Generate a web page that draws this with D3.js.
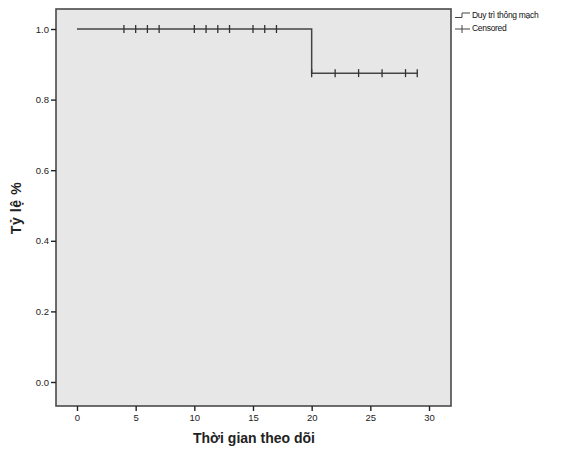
<!DOCTYPE html>
<html>
<head>
<meta charset="utf-8">
<script src="https://cdn.jsdelivr.net/npm/d3@7"></script>
<style>
  body { margin: 0; background: #fff; }
  svg { display: block; font-family: "Liberation Sans", Arial, sans-serif; }
</style>
</head>
<body>
<svg id="chart" width="567" height="449"></svg>
<script>
// survival curve (step points)
const stepTimes = [0, 20, 29];
const stepValues = [1.0, 0.875, 0.875];

// censored observations
const censoredTimes = [4, 5, 6, 7, 10, 11, 12, 13, 15, 16, 17, 20, 22, 24, 26, 28, 29];
const censoredValues = [1, 1, 1, 1, 1, 1, 1, 1, 1, 1, 1, 0.875, 0.875, 0.875, 0.875, 0.875, 0.875];

const xTicks = [0, 5, 10, 15, 20, 25, 30];
const yTicks = [0.0, 0.2, 0.4, 0.6, 0.8, 1.0];

const legendLabels = ["Duy trì thông mạch", "Censored"];

const frame = { left: 56, right: 451, top: 9, bottom: 406 };

let svg = d3.select("#chart");

let xScale = d3.scaleLinear().domain([0, 30]).range([77, 429]);
let yScale = d3.scaleLinear().domain([0, 1]).range([382, 29]);

// plot background + frame
svg.append("rect")
  .attr("x", frame.left)
  .attr("y", frame.top)
  .attr("width", frame.right - frame.left)
  .attr("height", frame.bottom - frame.top)
  .attr("fill", "#e7e7e7")
  .attr("stroke", "#4a4a4a")
  .attr("stroke-width", 1.6);

// y axis
let yAxis = d3.axisLeft(yScale)
  .tickValues(yTicks)
  .tickFormat(d3.format(".1f"))
  .tickSize(5)
  .tickPadding(2);

svg.append("g")
  .attr("transform", "translate(" + frame.left + ",0)")
  .call(yAxis)
  .call(g => g.select(".domain").remove())
  .call(g => g.selectAll("line").attr("stroke", "#222").attr("stroke-width", 1.4))
  .call(g => g.selectAll("text").attr("fill", "#222").attr("font-size", "9.5px"));

// x axis
let xAxis = d3.axisBottom(xScale)
  .tickValues(xTicks)
  .tickSize(5)
  .tickPadding(3);

svg.append("g")
  .attr("transform", "translate(0," + frame.bottom + ")")
  .call(xAxis)
  .call(g => g.select(".domain").remove())
  .call(g => g.selectAll("line").attr("stroke", "#222").attr("stroke-width", 1.4))
  .call(g => g.selectAll("text").attr("fill", "#222").attr("font-size", "9.5px"));

// survival step line
let stepLine = d3.line()
  .x((d, i) => xScale(stepTimes[i]))
  .y((d, i) => yScale(stepValues[i]))
  .curve(d3.curveStepAfter);

svg.append("path")
  .datum(stepTimes)
  .attr("d", stepLine)
  .attr("fill", "none")
  .attr("stroke", "#444")
  .attr("stroke-width", 1.5);

// censored marks
svg.selectAll("line.censor")
  .data(censoredTimes)
  .enter()
  .append("line")
  .attr("class", "censor")
  .attr("x1", d => xScale(d))
  .attr("x2", d => xScale(d))
  .attr("y1", (d, i) => yScale(censoredValues[i]) - 4)
  .attr("y2", (d, i) => yScale(censoredValues[i]) + 4)
  .attr("stroke", "#333")
  .attr("stroke-width", 1.3);

// legend
let legend = svg.append("g").attr("transform", "translate(455,0)");

legend.append("path")
  .attr("d", "M0,17.5 H7 V13 H15")
  .attr("fill", "none")
  .attr("stroke", "#444")
  .attr("stroke-width", 1);

legend.append("line")
  .attr("x1", 0).attr("x2", 15)
  .attr("y1", 29).attr("y2", 29)
  .attr("stroke", "#444").attr("stroke-width", 1);

legend.append("line")
  .attr("x1", 7).attr("x2", 7)
  .attr("y1", 25).attr("y2", 33)
  .attr("stroke", "#444").attr("stroke-width", 1);

legend.selectAll("text")
  .data(legendLabels)
  .enter()
  .append("text")
  .attr("x", 17)
  .attr("y", (d, i) => 18 + i * 13)
  .attr("font-size", "8.5px")
  .attr("fill", "#111")
  .style("letter-spacing", "-0.3px")
  .text(d => d);

// axis titles
svg.append("text")
  .attr("x", 254)
  .attr("y", 443)
  .attr("text-anchor", "middle")
  .attr("font-size", "14px")
  .attr("font-weight", "bold")
  .attr("fill", "#222")
  .text("Thời gian theo dõi");

svg.append("text")
  .attr("transform", "translate(21,208) rotate(-90)")
  .attr("text-anchor", "middle")
  .attr("font-size", "14px")
  .attr("font-weight", "bold")
  .attr("fill", "#222")
  .style("letter-spacing", "0.6px")
  .text("Tỷ lệ %");
</script>
</body>
</html>
